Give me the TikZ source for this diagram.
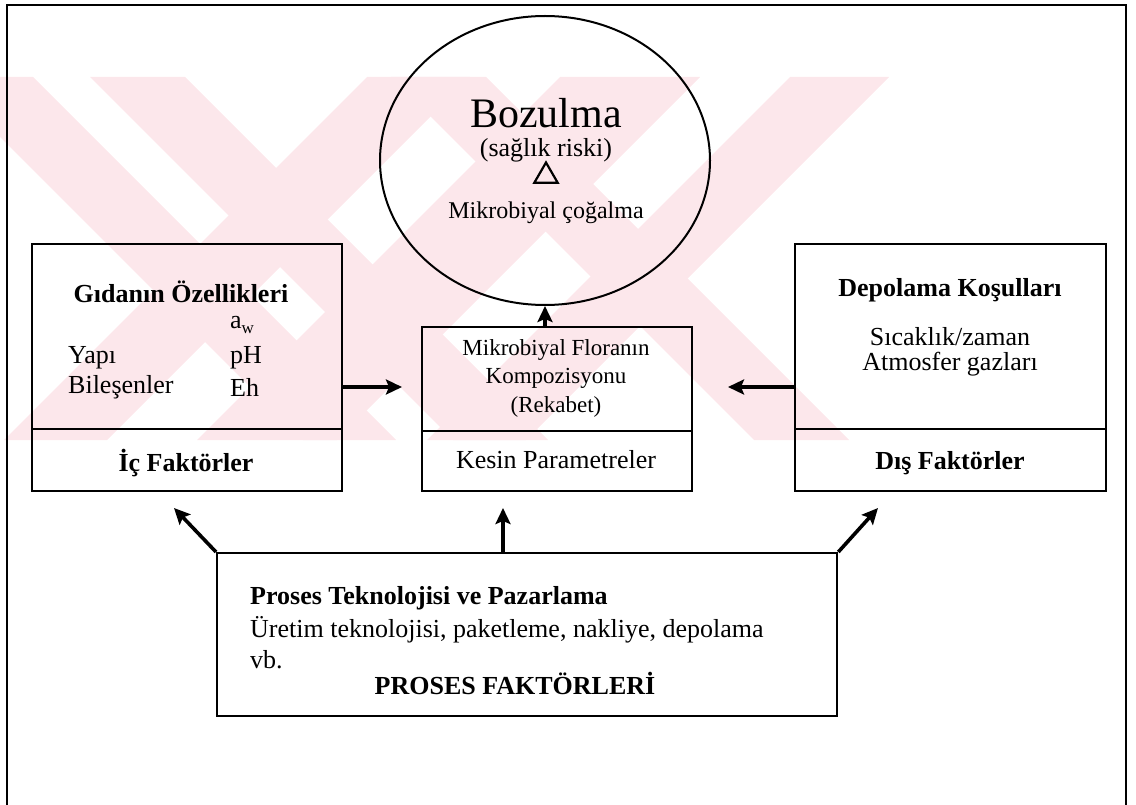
\documentclass[tikz,border=0pt]{standalone}
\usepackage{fontspec}
\setmainfont{Liberation Serif}
\usetikzlibrary{arrows.meta,shapes.geometric}
\definecolor{wm}{RGB}{252,231,235}
\begin{document}
\begin{tikzpicture}[x=1pt,y=-1pt,
  box/.style={draw, line width=2.3pt, inner sep=0pt, anchor=north west},
  divline/.style={line width=2.3pt},
  arr/.style={line width=3.6pt, -{Stealth[length=16pt,width=15pt,inset=3pt]}},
  txt/.style={inner sep=0pt, font=\fontsize{26}{30}\selectfont},
  btxt/.style={inner sep=0pt, font=\fontsize{26}{30}\selectfont\bfseries},
  mtxt/.style={inner sep=0pt, font=\fontsize{23}{26}\selectfont}]
\useasboundingbox (0,0) rectangle (1136,805);
% watermark
\begin{scope}
  \clip (0,77) rectangle (890,440);
  \fill[wm] (-60,77) -- (33,77) -- (396,440) -- (303,440) -- cycle;
  \fill[wm] (90,77) -- (185,77) -- (548,440) -- (453,440) -- cycle;
  \fill[wm] (367,77) -- (470,77) -- (107,440) -- (4,440) -- cycle;
  \fill[wm] (560,77) -- (700,77) -- (337,440) -- (197,440) -- cycle;
  \fill[wm] (790,77) -- (889,77) -- (526,440) -- (427,440) -- cycle;
  \fill[wm] (391,77) -- (486,77) -- (849,440) -- (754,440) -- cycle;
\end{scope}
% frame
\coordinate (f1) at (7,810);
\coordinate (f2) at (7,5);
\coordinate (f3) at (1126,5);
\coordinate (f4) at (1126,810);
\draw[line width=2.4pt] (f1) -- (f2) -- (f3) -- (f4);
% ellipse
\node[draw, ellipse, line width=2pt, minimum width=330pt, minimum height=289pt, inner sep=0pt] (ell) at (545,160.5) {};
\node[inner sep=0pt, font=\fontsize{42}{46}\selectfont] (boz) at (546,113) {Bozulma};
\node[inner sep=0pt, font=\fontsize{26}{30}\selectfont] (sag) at (546,150) {(sağlık riski)};
\node[draw, line width=2.2pt, regular polygon, regular polygon sides=3, minimum size=27pt, inner sep=0pt] (tri) at (546,176) {};
\node[inner sep=0pt, font=\fontsize{24}{28}\selectfont] (mic) at (546,213) {Mikrobiyal çoğalma};
% left box
\node[box, minimum width=310pt, minimum height=247pt] (lb) at (31,243) {};
\coordinate (ldiv) at (0,429);
\draw[divline] (lb.west |- ldiv) -- (lb.east |- ldiv);
\node[btxt] (lt) at (181,292) {Gıdanın Özellikleri};
\node[txt, anchor=west] (aw) at (230,325) {a\raisebox{-0.35ex}{\fontsize{17}{17}\selectfont w}};
\node[txt, anchor=west] (yap) at (68,358) {Yapı};
\node[txt, anchor=west] (ph) at (230,358) {pH};
\node[txt, anchor=west] (bil) at (68,387) {Bileşenler};
\node[txt, anchor=west] (eh) at (230,387) {Eh};
\node[btxt] (ic) at (186,463) {İç Faktörler};
% middle box
\node[box, minimum width=270pt, minimum height=164pt] (mb) at (421,326) {};
\coordinate (mdiv) at (0,431);
\draw[divline] (mb.west |- mdiv) -- (mb.east |- mdiv);
\node[mtxt] (m1) at (556,350) {Mikrobiyal Floranın};
\node[mtxt] (m2) at (556,378) {Kompozisyonu};
\node[mtxt] (m3) at (556,407) {(Rekabet)};
\node[txt] (kes) at (556,460) {Kesin Parametreler};
% right box
\node[box, minimum width=311pt, minimum height=247pt] (rb) at (794,243) {};
\coordinate (rdiv) at (0,429);
\draw[divline] (rb.west |- rdiv) -- (rb.east |- rdiv);
\node[btxt] (dep) at (950,290) {Depolama Koşulları};
\node[txt] (sic) at (950,337) {Sıcaklık/zaman};
\node[txt] (atm) at (950,364) {Atmosfer gazları};
\node[btxt] (dis) at (950,463) {Dış Faktörler};
% bottom box
\node[box, minimum width=620pt, minimum height=163pt] (bb) at (216,552) {};
\node[btxt, anchor=west] (pt) at (250,598) {Proses Teknolojisi ve Pazarlama};
\node[txt, anchor=west] (ur) at (250,630) {Üretim teknolojisi, paketleme, nakliye, depolama};
\node[txt, anchor=west] (vb) at (250,660) {vb.};
\node[btxt] (pf) at (515,683) {PROSES FAKTÖRLERİ};
% arrows
\coordinate (la) at (402,387);
\coordinate (ra) at (728,387);
\coordinate (ba) at (503,508);
\coordinate (dl) at (174,508);
\coordinate (dr) at (878,508);
\draw[arr] (lb.east |- la) -- (la);
\draw[arr] (rb.west |- ra) -- (ra);
\draw[arr] (ell.south |- mb.north) -- (ell.south);
\draw[arr] (bb.north -| ba) -- (ba);
\draw[arr] (bb.north west) -- (dl);
\draw[arr] (bb.north east) -- (dr);
\end{tikzpicture}
\end{document}
